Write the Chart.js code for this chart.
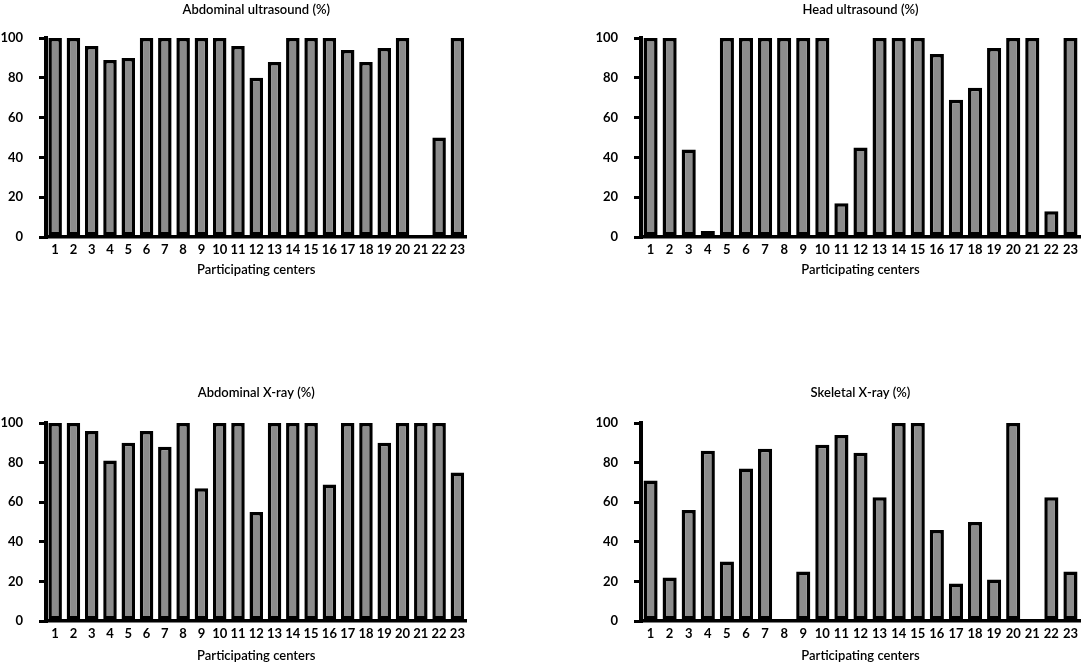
<!DOCTYPE html>
<html><head><meta charset="utf-8">
<script src="https://cdn.jsdelivr.net/npm/chart.js@4.4.1/dist/chart.umd.min.js"></script>
<style>
html,body{margin:0;padding:0;background:#fff;width:1084px;height:666px;overflow:hidden;position:relative}
.p{position:absolute}
</style></head><body>
<div class="p" style="left:0;top:0;width:470px;height:280px"><canvas id="c1"></canvas></div>
<div class="p" style="left:560px;top:0;width:524px;height:280px"><canvas id="c2"></canvas></div>
<div class="p" style="left:0;top:383px;width:470px;height:283px"><canvas id="c3"></canvas></div>
<div class="p" style="left:560px;top:383px;width:524px;height:283px"><canvas id="c4"></canvas></div>
<script>
const centers = ['1','2','3','4','5','6','7','8','9','10','11','12','13','14','15','16','17','18','19','20','21','22','23'];
const abdominalUltrasound = [100,100,96,89,90,100,100,100,100,100,96,80,88,100,100,100,94,88,95,100,0,50,100];
const headUltrasound = [100,100,44,3,100,100,100,100,100,100,17,45,100,100,100,92,69,75,95,100,100,13,100];
const abdominalXray = [100,100,96,81,90,96,88,100,67,100,100,55,100,100,100,69,100,100,90,100,100,100,75];
const skeletalXray = [71,22,56,86,30,77,87,0,25,89,94,85,62.5,100,100,46,19,50,21,100,0,62.5,25];
const yTicks = [0,20,40,60,80,100];
const xTitle = 'Participating centers';

Chart.defaults.font.family = 'Lato';
Chart.defaults.font.size = 13;
Chart.defaults.color = '#000';

function makeChart(id, title, values, yWidth, padRight, titlePadBottom, xHeight) {
  new Chart(document.getElementById(id), {
    type: 'bar',
    data: {
      labels: centers,
      datasets: [{
        data: values,
        backgroundColor: '#8c8c8c',
        borderColor: '#000',
        borderWidth: 3.5,
        borderSkipped: false,
        categoryPercentage: 1,
        barPercentage: 0.74
      }]
    },
    options: {
      responsive: true,
      maintainAspectRatio: false,
      animation: false,
      layout: { padding: { left: 0, right: padRight, top: 0, bottom: 0 } },
      plugins: {
        legend: { display: false },
        tooltip: { enabled: false },
        title: {
          display: true, text: title, fullSize: false,
          font: { size: 13, weight: '600' }, color: '#000',
          padding: { top: 2, bottom: titlePadBottom }
        }
      },
      scales: {
        x: {
          grid: { display: false, drawTicks: false, tickLength: 0 },
          border: { display: true, color: '#000', width: 3.5 },
          ticks: { padding: 5, maxRotation: 0, autoSkip: false, color: '#000', font: { size: 13, weight: 'bold' } },
          title: { display: true, text: xTitle, color: '#000', font: { size: 13, weight: '600' }, padding: { top: 0, bottom: 2 } },
          afterFit: s => { s.height = xHeight; }
        },
        y: {
          min: 0, max: 100,
          afterBuildTicks: s => { s.ticks = yTicks.map(v => ({ value: v })); },
          grid: { display: true, drawOnChartArea: false, drawTicks: true, tickLength: 7, lineWidth: 3, color: '#000' },
          border: { display: true, color: '#000', width: 4 },
          ticks: { padding: 16, color: '#000', font: { size: 13, weight: 'bold' } },
          afterFit: s => { s.width = yWidth; }
        }
      }
    }
  });
}
makeChart('c1', 'Abdominal ultrasound (%)', abdominalUltrasound, 46, 2, 20.4, 43);
makeChart('c2', 'Head ultrasound (%)', headUltrasound, 81, 4, 20.4, 43);
makeChart('c3', 'Abdominal X-ray (%)', abdominalXray, 46, 2, 22.4, 45);
makeChart('c4', 'Skeletal X-ray (%)', skeletalXray, 81, 4, 22.4, 45);
</script>
</body></html>
